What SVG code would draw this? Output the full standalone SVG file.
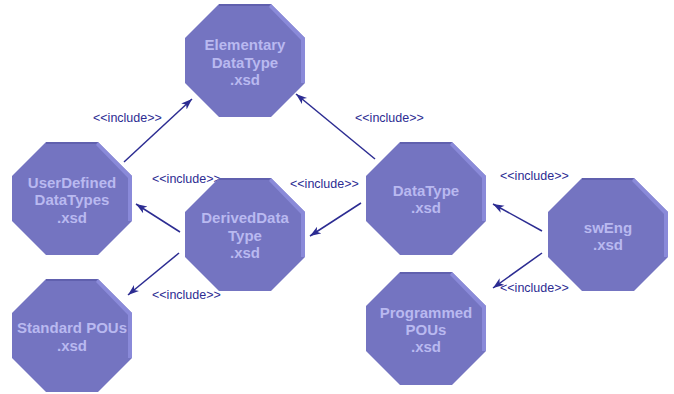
<svg xmlns="http://www.w3.org/2000/svg" xmlns:xlink="http://www.w3.org/1999/xlink" width="674" height="394" viewBox="0 0 674 394">
  <style>
    .body { fill: #7474c1; }
    .bevel { fill: #8a8ad9; }
    .rim { fill: #6060ae; }
    .name { font-family: "Liberation Sans", Arial, sans-serif; font-size: 15px; font-weight: bold; fill: #b9b9f0; text-anchor: middle; }
    .edge { stroke: #2c2c92; stroke-width: 1.5; fill: none; marker-end: url(#head); }
    .tag { font-family: "Liberation Sans", Arial, sans-serif; font-size: 12.5px; fill: #2c2c92; }
  </style>
  <defs>
    <!-- octagon with light bevel on the upper-right side -->
    <g id="oct">
      <polygon class="body" points="34,0 86,0 120,34 120,79 86,113 34,113 0,79 0,34"/>
      <polygon class="bevel" points="86,0 120,34 120,79 116,79 116,36 84,3"/>
      <polygon class="rim" points="34,0 86,0 84,2 34,2"/>
    </g>
    <marker id="head" markerUnits="userSpaceOnUse" markerWidth="12" markerHeight="10" refX="11" refY="4" orient="auto">
      <path d="M0,0 L11,4 L0,8 L3,4 z" fill="#2c2c92"/>
    </marker>
  </defs>

  <g id="connectors">
    <line class="edge" x1="124" y1="162" x2="192" y2="99"/>
    <line class="edge" x1="375" y1="159" x2="296" y2="94"/>
    <line class="edge" x1="361" y1="203" x2="310" y2="236"/>
    <line class="edge" x1="180" y1="232" x2="136" y2="204"/>
    <line class="edge" x1="179" y1="253" x2="128" y2="295"/>
    <line class="edge" x1="542" y1="231" x2="493" y2="204"/>
    <line class="edge" x1="542" y1="253" x2="493" y2="288"/>
    <text class="tag" x="93" y="122">&lt;&lt;include&gt;&gt;</text>
    <text class="tag" x="355" y="122">&lt;&lt;include&gt;&gt;</text>
    <text class="tag" x="152" y="183">&lt;&lt;include&gt;&gt;</text>
    <text class="tag" x="290" y="188">&lt;&lt;include&gt;&gt;</text>
    <text class="tag" x="152" y="299">&lt;&lt;include&gt;&gt;</text>
    <text class="tag" x="500" y="180">&lt;&lt;include&gt;&gt;</text>
    <text class="tag" x="500" y="292">&lt;&lt;include&gt;&gt;</text>
  </g>

  <g id="elementary">
    <use xlink:href="#oct" x="185" y="4"/>
    <text class="name" x="245" y="50">Elementary</text>
    <text class="name" x="245" y="67.5">DataType</text>
    <text class="name" x="245" y="85">.xsd</text>
  </g>
  <g id="userdefined">
    <use xlink:href="#oct" x="12" y="142"/>
    <text class="name" x="72" y="187.5">UserDefined</text>
    <text class="name" x="72" y="205">DataTypes</text>
    <text class="name" x="72" y="222.5">.xsd</text>
  </g>
  <g id="derived">
    <use xlink:href="#oct" x="185" y="178"/>
    <text class="name" x="245" y="223">DerivedData</text>
    <text class="name" x="245" y="240.5">Type</text>
    <text class="name" x="245" y="258">.xsd</text>
  </g>
  <g id="datatype">
    <use xlink:href="#oct" x="366" y="142"/>
    <text class="name" x="426" y="196">DataType</text>
    <text class="name" x="426" y="213">.xsd</text>
  </g>
  <g id="sweng">
    <use xlink:href="#oct" x="548" y="178"/>
    <text class="name" x="608" y="233">swEng</text>
    <text class="name" x="608" y="250">.xsd</text>
  </g>
  <g id="standardpous">
    <use xlink:href="#oct" x="12" y="279"/>
    <text class="name" x="72" y="333">Standard POUs</text>
    <text class="name" x="72" y="351">.xsd</text>
  </g>
  <g id="programmedpous">
    <use xlink:href="#oct" x="366" y="272"/>
    <text class="name" x="426" y="318">Programmed</text>
    <text class="name" x="426" y="335">POUs</text>
    <text class="name" x="426" y="352">.xsd</text>
  </g>
</svg>
